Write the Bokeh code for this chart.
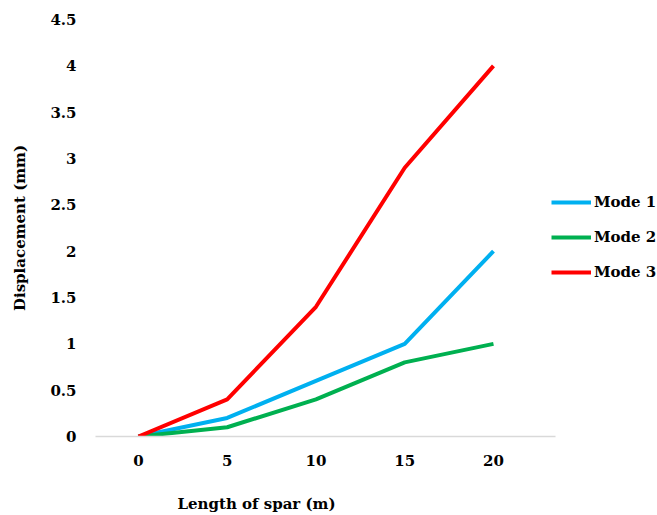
from bokeh.plotting import figure
from bokeh.models import Range1d, Legend, LegendItem, FixedTicker, Title
from bokeh.embed import file_html
from bokeh.resources import INLINE

lengths = [0, 5, 10, 15, 20]
mode1 = [0, 0.2, 0.6, 1.0, 2.0]
mode2 = [0, 0.1, 0.4, 0.8, 1.0]
mode3 = [0, 0.4, 1.4, 2.9, 4.0]
y_ticks = [0, 0.5, 1, 1.5, 2, 2.5, 3, 3.5, 4, 4.5]
y_tick_labels = {0: "0", 0.5: "0.5", 1: "1", 1.5: "1.5", 2: "2", 2.5: "2.5",
                 3: "3", 3.5: "3.5", 4: "4", 4.5: "4.5"}

FONT = "DejaVu Serif"

p = figure(width=657, height=515, output_backend="svg", toolbar_location=None,
           x_range=Range1d(-2.42, 29.24), y_range=Range1d(0, 4.5),
           min_border_left=95, min_border_right=0, min_border_top=19, min_border_bottom=79)
p.outline_line_color = None
p.grid.visible = False
p.background_fill_color = "white"
p.border_fill_color = "white"

r1 = p.line(lengths, mode1, line_color="#00B0F0", line_width=4)
r2 = p.line(lengths, mode2, line_color="#00B050", line_width=4)
r3 = p.line(lengths, mode3, line_color="#FF0000", line_width=4)

p.xaxis.ticker = FixedTicker(ticks=lengths)
p.yaxis.ticker = FixedTicker(ticks=y_ticks)
p.yaxis.major_label_overrides = y_tick_labels
p.xaxis.bounds = (-2.42, 23.5)

for ax in (p.xaxis, p.yaxis):
    ax.major_tick_line_color = None
    ax.minor_tick_line_color = None
    ax.major_label_text_font = FONT
    ax.major_label_text_font_style = "bold"
    ax.major_label_text_font_size = "15px"
    ax.major_label_text_color = "#000000"
    ax.axis_label_text_font = FONT
    ax.axis_label_text_font_style = "bold"
    ax.axis_label_text_font_size = "15px"
    ax.axis_label_text_color = "#000000"

p.yaxis.axis_line_color = None
p.xaxis.axis_line_color = "#D9D9D9"
p.xaxis.axis_line_width = 1.5
p.yaxis.major_label_standoff = 13
p.xaxis.major_label_standoff = 12
p.yaxis.axis_label = "Displacement (mm)"
p.yaxis.axis_label_standoff = 18

xtitle = Title(text="\nLength of spar (m)", align="left", offset=82,
               text_font=FONT, text_font_style="bold", text_font_size="15px",
               text_color="#000000", standoff=0, text_line_height=1.4)
p.add_layout(xtitle, "below")

legend = Legend(items=[LegendItem(label="Mode 1", renderers=[r1]),
                       LegendItem(label="Mode 2", renderers=[r2]),
                       LegendItem(label="Mode 3", renderers=[r3])],
                location=(456, 154))
legend.border_line_color = None
legend.background_fill_alpha = 0
legend.label_text_font = FONT
legend.label_text_font_style = "bold"
legend.label_text_font_size = "15px"
legend.label_text_color = "#000000"
legend.glyph_width = 40
legend.label_standoff = 3
legend.spacing = 15
legend.padding = 0
legend.margin = 0
p.add_layout(legend, "center")

open("out.html", "w").write(file_html(p, INLINE))
